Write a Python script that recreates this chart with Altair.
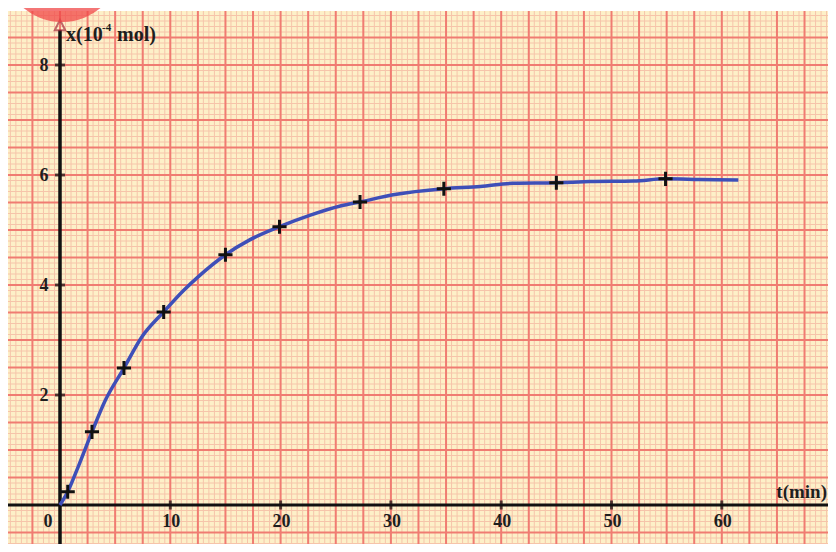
import altair as alt
import numpy as np
import pandas as pd

# measured points (t in min, x in 10^-4 mol)
t_pts = [0.7, 2.9, 5.8, 9.4, 15.0, 19.9, 27.2, 34.8, 45.0, 54.9]
x_pts = [0.24, 1.33, 2.49, 3.51, 4.55, 5.06, 5.51, 5.75, 5.86, 5.93]

# hand-drawn curve
curve_t = [0, 0.7, 1.5, 2.9, 4.1, 5.8, 7.4, 9.4, 11.2, 12.7, 15.0,
           17.2, 19.9, 22.7, 25.5, 27.2, 30.2, 34.8, 38.1, 41.1, 45.0, 48.0,
           52.0, 54.9, 58.0, 61.5]
curve_x = [0, 0.24, 0.62, 1.33, 1.90, 2.49, 3.05, 3.51, 3.90, 4.18,
           4.55, 4.82, 5.06, 5.27, 5.44, 5.51, 5.64, 5.75, 5.79, 5.85, 5.86,
           5.88, 5.89, 5.93, 5.92, 5.91]

x_ticks = [10, 20, 30, 40, 50, 60]
x_tick_labels = ["10", "20", "30", "40", "50", "60"]
y_ticks = [2, 4, 6, 8]
y_tick_labels = ["2", "4", "6", "8"]

W, H = 820, 536
PX_T = 11.03
PX_Y = 55.0
T0, Y0 = 52, 497  # pixel position of the origin inside the chart
t_dom = [-T0 / PX_T, (W - T0) / PX_T]
y_dom = [(Y0 - H) / PX_Y, Y0 / PX_Y]

xs = alt.Scale(domain=t_dom, nice=False, zero=False)
ys = alt.Scale(domain=y_dom, nice=False, zero=False)

PAPER = "#FDF0C8"
MINOR = "#F6C4AA"
MAJOR = "#F07C72"
FONT = "Liberation Serif"
TXT = "#1E1E1E"

minor_t = pd.DataFrame({"t": np.round(np.arange(-4.5, 70.6, 0.5), 3)})
minor_y = pd.DataFrame({"v": np.round(np.arange(-0.7, 9.05, 0.1), 3)})
major_t = pd.DataFrame({"t": np.round(np.arange(-2.5, 70.6, 2.5), 3)})
major_y = pd.DataFrame({"v": np.round(np.arange(-0.5, 9.05, 0.5), 3)})

X = lambda f: alt.X(f, scale=xs, axis=None)
Y = lambda f: alt.Y(f, scale=ys, axis=None)

g1 = alt.Chart(minor_t).mark_rule(color=MINOR, strokeWidth=1).encode(x=X("t:Q"))
g2 = alt.Chart(minor_y).mark_rule(color=MINOR, strokeWidth=1).encode(y=Y("v:Q"))
g3 = alt.Chart(major_t).mark_rule(color=MAJOR, strokeWidth=2).encode(x=X("t:Q"))
g4 = alt.Chart(major_y).mark_rule(color=MAJOR, strokeWidth=2).encode(y=Y("v:Q"))

top_strip = alt.Chart(pd.DataFrame({"a": [0]})).mark_rect(color="white").encode(
    x=alt.value(0), x2=alt.value(W), y=alt.value(0), y2=alt.value(3))

zero = pd.DataFrame({"z": [0.0]})
x_axis = alt.Chart(zero).mark_rule(color="#111", strokeWidth=3).encode(
    y=Y("z:Q"), x=alt.value(0), x2=alt.value(W))
y_axis = alt.Chart(zero).mark_rule(color="#111", strokeWidth=3.5).encode(
    x=X("z:Q"), y=alt.value(22), y2=alt.value(H))

arrow = alt.Chart(zero).mark_point(
    shape="M0,-1L1,1L-1,1Z", size=110, filled=False, stroke="#A83040",
    strokeWidth=2).encode(x=X("z:Q"), y=alt.value(17))

xt_df = pd.DataFrame({"t": x_ticks, "lab": x_tick_labels, "z": 0.0})
yt_df = pd.DataFrame({"v": y_ticks, "lab": y_tick_labels, "z": 0.0})

xticks = alt.Chart(xt_df).mark_tick(orient="vertical", size=9, thickness=3,
                                    color="#111").encode(x=X("t:Q"), y=Y("z:Q"))
yticks = alt.Chart(yt_df).mark_tick(orient="horizontal", size=10, thickness=3,
                                    color="#111").encode(x=X("z:Q"), y=Y("v:Q"))

lab_style = dict(font=FONT, fontSize=18, fontWeight="bold", color=TXT)
xlabels = alt.Chart(xt_df).mark_text(dx=1, dy=17, **lab_style).encode(
    x=X("t:Q"), y=Y("z:Q"), text="lab:N")
zero_label = alt.Chart(zero).mark_text(dx=-12, dy=17, **lab_style).encode(
    x=X("z:Q"), y=Y("z:Q"), text=alt.value("0"))
ylabels = alt.Chart(yt_df).mark_text(dx=-16, dy=1, **lab_style).encode(
    x=X("z:Q"), y=Y("v:Q"), text="lab:N")

ttl = dict(font=FONT, fontWeight="bold", color=TXT, align="left",
           baseline="middle")
yt1 = alt.Chart(zero).mark_text(fontSize=20, **ttl).encode(
    x=alt.value(58), y=alt.value(27), text=alt.value("x(10"))
yt2 = alt.Chart(zero).mark_text(fontSize=11, **ttl).encode(
    x=alt.value(94), y=alt.value(20), text=alt.value("-4"))
yt3 = alt.Chart(zero).mark_text(fontSize=20, **ttl).encode(
    x=alt.value(109), y=alt.value(27), text=alt.value("mol)"))
xtitle = alt.Chart(zero).mark_text(fontSize=19, **{**ttl, "align": "right"}).encode(
    x=alt.value(W - 1), y=alt.value(484), text=alt.value("t(min)"))

curve_df = pd.DataFrame({"t": curve_t, "x": curve_x})
curve = alt.Chart(curve_df).mark_line(color="#3E4FB8", strokeWidth=3.5,
                                      interpolate="monotone").encode(
    x=X("t:Q"), y=Y("x:Q"))

pts_df = pd.DataFrame({"t": t_pts, "x": x_pts})
pts = alt.Chart(pts_df).mark_point(shape="M-1,0H1M0,-1V1", size=200,
                                   filled=False, stroke="#111",
                                   strokeWidth=3, opacity=1).encode(
    x=X("t:Q"), y=Y("x:Q"))

logo = alt.Chart(zero).mark_arc(color="#F04848", opacity=0.75).encode(
    x=alt.value(54), y=alt.value(-46), radius=alt.value(60),
    radius2=alt.value(45), theta=alt.value(np.pi / 2),
    theta2=alt.value(3 * np.pi / 2))

chart = alt.layer(
    g1, g2, g3, g4, top_strip, x_axis, y_axis, xticks, yticks, curve, pts,
    arrow, xlabels, zero_label, ylabels, yt1, yt2, yt3, xtitle, logo
).properties(
    width=W, height=H, autosize=alt.AutoSizeParams(type="none"), padding=0,
    background=PAPER
).configure_view(stroke=None)

chart.save("out.html", embed_options={"renderer": "svg", "actions": False})
